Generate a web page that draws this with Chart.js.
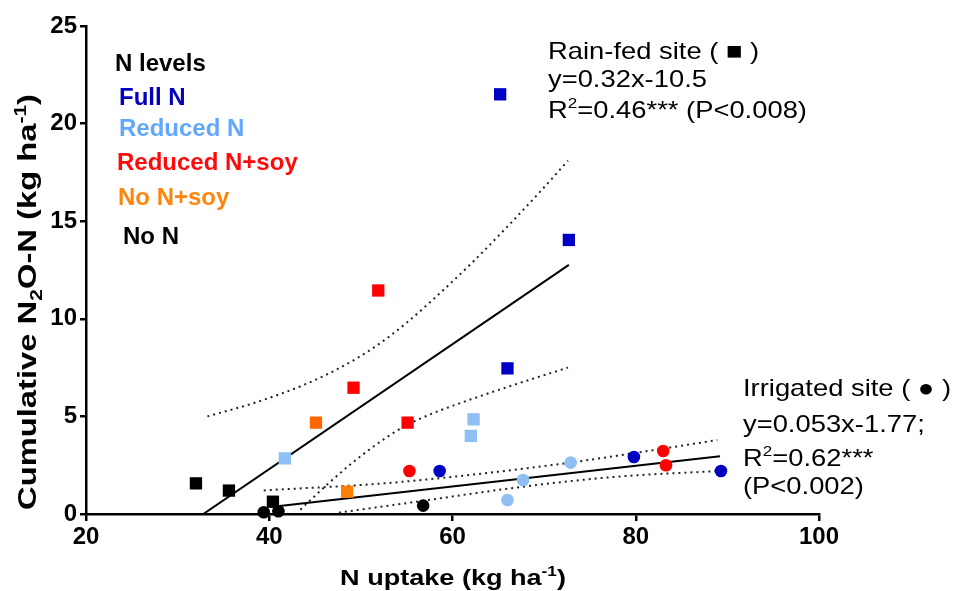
<!DOCTYPE html>
<html>
<head>
<meta charset="utf-8">
<script src="https://cdn.jsdelivr.net/npm/chart.js@4.4.1/dist/chart.umd.min.js"></script>
<style>
html,body{margin:0;padding:0;background:#fff;}
#wrap{width:960px;height:591px;position:relative;}
</style>
</head>
<body>
<div id="wrap"><canvas id="c" width="960" height="591"></canvas></div>
<script>
// ---------- data ----------
const levelNames = ['Full N', 'Reduced N', 'Reduced N+soy', 'No N+soy', 'No N'];
const levelTextColors = ['#0000BE', '#62A8FA', '#FF0A0A', '#FF850D', '#000000'];

// Rain-fed site (squares)
const rainFullX   = [65.2, 72.7, 66.0];
const rainFullY   = [21.5, 14.04, 7.46];
const rainRedX    = [41.7, 62.3, 62.0];
const rainRedY    = [2.85, 4.85, 4.0];
const rainRedSoyX = [51.9, 49.2, 55.1];
const rainRedSoyY = [11.45, 6.47, 4.68];
const rainNoSoyX  = [45.1, 48.5];
const rainNoSoyY  = [4.68, 1.14];
const rainNoX     = [32.0, 35.6, 40.4];
const rainNoY     = [1.57, 1.2, 0.63];

// Irrigated site (circles)
const irrFullX   = [58.6, 79.8, 89.3];
const irrFullY   = [2.2, 2.92, 2.2];
const irrRedX    = [66.0, 67.7, 72.9];
const irrRedY    = [0.72, 1.74, 2.63];
const irrRedSoyX = [55.3, 83.0, 83.3];
const irrRedSoyY = [2.2, 3.23, 2.5];
const irrNoX     = [39.4, 41.0, 56.8];
const irrNoY     = [0.09, 0.14, 0.43];

// Regression lines and 95% confidence bands
const rainFitX   = [32.8, 72.7];
const rainFitY   = [0, 12.76];
const rainUpX    = [33.25, 38.7, 44.1, 47.75, 51.4, 55.0, 58.6, 62.3, 65.9, 69.5, 72.6];
const rainUpY    = [5.0, 5.74, 6.68, 7.5, 8.52, 9.8, 11.3, 12.95, 14.68, 16.48, 18.1];
const rainLoX    = [43.4, 46.3, 49.2, 52.1, 54.6, 57.55, 61.2, 66.6, 72.6];
const rainLoY    = [0.22, 1.5, 2.67, 3.7, 4.45, 5.1, 5.74, 6.6, 7.5];
const irrFitX    = [40.4, 89.2];
const irrFitY    = [0.37, 2.96];
const irrUpX     = [39.4, 52.5, 63.4, 72.8, 79.7, 88.9];
const irrUpY     = [1.21, 1.57, 2.08, 2.63, 3.11, 3.79];
const irrLoX     = [47.6, 56.1, 67.7, 77.9, 88.9];
const irrLoY     = [0.07, 0.63, 1.40, 1.91, 2.2];

// axis ticks
const xTickMin = 20, xTickMax = 100, xTickStep = 20;
const yTickMin = 0,  yTickMax = 25,  yTickStep = 5;

// ---------- helpers ----------
const pts = (xs, ys) => xs.map((x, i) => ({x: x, y: ys[i]}));
const COL = {full:'#0000C4', red:'#8EC0F6', soy:'#FF0000', nosoy:['#FF6600','#FF8000'], no:'#000000'};

function pointSet(xs, ys, color, style) {
  return {
    data: pts(xs, ys), showLine: false, order: 0, clip: false,
    pointStyle: style,
    pointRadius: style === 'rect' ? 8.7 : 6.3,
    pointHoverRadius: style === 'rect' ? 8.7 : 6.3,
    pointBackgroundColor: color, pointBorderColor: color, pointBorderWidth: 0
  };
}
function lineSet(xs, ys, dotted) {
  return {
    data: pts(xs, ys), showLine: true, order: 1,
    borderColor: dotted ? '#222' : '#000', borderWidth: 2,
    borderDash: dotted ? [2, 4] : [], borderCapStyle: 'butt',
    cubicInterpolationMode: dotted ? 'monotone' : 'default', tension: 0,
    pointRadius: 0, pointHoverRadius: 0, fill: false
  };
}

const datasets = [
  pointSet(rainFullX, rainFullY, COL.full, 'rect'),
  pointSet(rainRedX, rainRedY, COL.red, 'rect'),
  pointSet(rainRedSoyX, rainRedSoyY, COL.soy, 'rect'),
  pointSet(rainNoSoyX, rainNoSoyY, COL.nosoy, 'rect'),
  pointSet(rainNoX, rainNoY, COL.no, 'rect'),
  pointSet(irrFullX, irrFullY, COL.full, 'circle'),
  pointSet(irrRedX, irrRedY, COL.red, 'circle'),
  pointSet(irrRedSoyX, irrRedSoyY, COL.soy, 'circle'),
  pointSet(irrNoX, irrNoY, COL.no, 'circle'),
  lineSet(rainFitX, rainFitY, false),
  lineSet(rainUpX, rainUpY, true),
  lineSet(rainLoX, rainLoY, true),
  lineSet(irrFitX, irrFitY, false),
  lineSet(irrUpX, irrUpY, true),
  lineSet(irrLoX, irrLoY, true)
];

// rich text (sub/superscripts) drawn onto the chart canvas
const FAM = '"Liberation Sans", Arial, sans-serif';
function drawRich(ctx, x, y, segs, o) {
  ctx.save();
  ctx.translate(x, y);
  if (o.rotate) ctx.rotate(o.rotate);
  ctx.scale(o.stretch || 1, 1);
  const big = `${o.weight || 'normal'} ${o.size}px ${FAM}`;
  const small = `${o.weight || 'normal'} ${Math.round(o.size * 0.64)}px ${FAM}`;
  let total = 0;
  const ws = segs.map(s => {
    ctx.font = (s.sup || s.sub) ? small : big;
    const w = ctx.measureText(s.t).width; total += w; return w;
  });
  let cx = o.align === 'center' ? -total / 2 : 0;
  ctx.textBaseline = 'alphabetic';
  ctx.textAlign = 'left';
  segs.forEach((s, i) => {
    ctx.font = (s.sup || s.sub) ? small : big;
    ctx.fillStyle = s.color || o.color || '#000';
    const dy = s.sup ? -o.size * 0.40 : (s.sub ? o.size * 0.22 : 0);
    ctx.fillText(s.t, cx, dy);
    cx += ws[i];
  });
  ctx.restore();
}

const legendBaselines = [105, 135.7, 170, 205, 244];
const legendLefts = [119, 119, 117, 118, 123];

const textPlugin = {
  id: 'texts',
  afterDraw(chart) {
    const ctx = chart.ctx;
    // legend block
    drawRich(ctx, 115, 70.5, [{t:'N levels'}], {size:24, weight:'bold', color:'#000'});
    levelNames.forEach((n, i) => {
      drawRich(ctx, legendLefts[i], legendBaselines[i], [{t:n}], {size:24, weight:'bold', color:levelTextColors[i]});
    });
    // rain-fed annotation
    const ann = {size:24, weight:'normal', color:'#000', stretch:1.14};
    drawRich(ctx, 548, 59, [{t:'Rain-fed site ( ■ )'}], ann);
    drawRich(ctx, 548, 87, [{t:'y=0.32x-10.5'}], ann);
    drawRich(ctx, 548, 118, [{t:'R'}, {t:'2', sup:true}, {t:'=0.46*** (P<0.008)'}], ann);
    // irrigated annotation
    drawRich(ctx, 743, 396, [{t:'Irrigated site ( ● )'}], ann);
    drawRich(ctx, 743, 432, [{t:'y=0.053x-1.77;'}], ann);
    drawRich(ctx, 743, 466, [{t:'R'}, {t:'2', sup:true}, {t:'=0.62***'}], ann);
    drawRich(ctx, 743, 494, [{t:'(P<0.002)'}], ann);
    // axis titles
    drawRich(ctx, 453, 585, [{t:'N uptake (kg ha'}, {t:'-1', sup:true}, {t:')'}],
      {size:22, weight:'bold', color:'#000', align:'center', stretch:1.23});
    drawRich(ctx, 36, 302, [{t:'Cumulative N'}, {t:'2', sub:true}, {t:'O-N (kg ha'}, {t:'-1', sup:true}, {t:')'}],
      {size:25, weight:'bold', color:'#000', align:'center', stretch:1.31, rotate:-Math.PI/2});
  }
};

const tickFont = {family: FAM, size: 24, weight: 'bold'};

new Chart(document.getElementById('c').getContext('2d'), {
  type: 'scatter',
  data: {datasets},
  options: {
    responsive: false, animation: false, devicePixelRatio: 1,
    layout: {padding: {left: 0, top: 26, right: 141, bottom: 0}},
    plugins: {legend: {display: false}, tooltip: {enabled: false}, title: {display: false}},
    events: [],
    scales: {
      x: {
        type: 'linear', min: xTickMin, max: xTickMax,
        ticks: {stepSize: xTickStep, font: tickFont, color: '#000', padding: 2, maxRotation: 0},
        grid: {display: true, drawOnChartArea: false, drawTicks: true, tickLength: 7, color: '#000', lineWidth: 2.5},
        border: {display: true, color: '#000', width: 2.5},
        afterFit(s) { s.height = 77; }
      },
      y: {
        type: 'linear', min: yTickMin, max: yTickMax,
        ticks: {stepSize: yTickStep, font: tickFont, color: '#000', padding: 3},
        grid: {display: true, drawOnChartArea: false, drawTicks: true, tickLength: 6, color: '#000', lineWidth: 2.5},
        border: {display: true, color: '#000', width: 2.5},
        afterFit(s) { s.width = 86; }
      }
    }
  },
  plugins: [textPlugin]
});
</script>
</body>
</html>
